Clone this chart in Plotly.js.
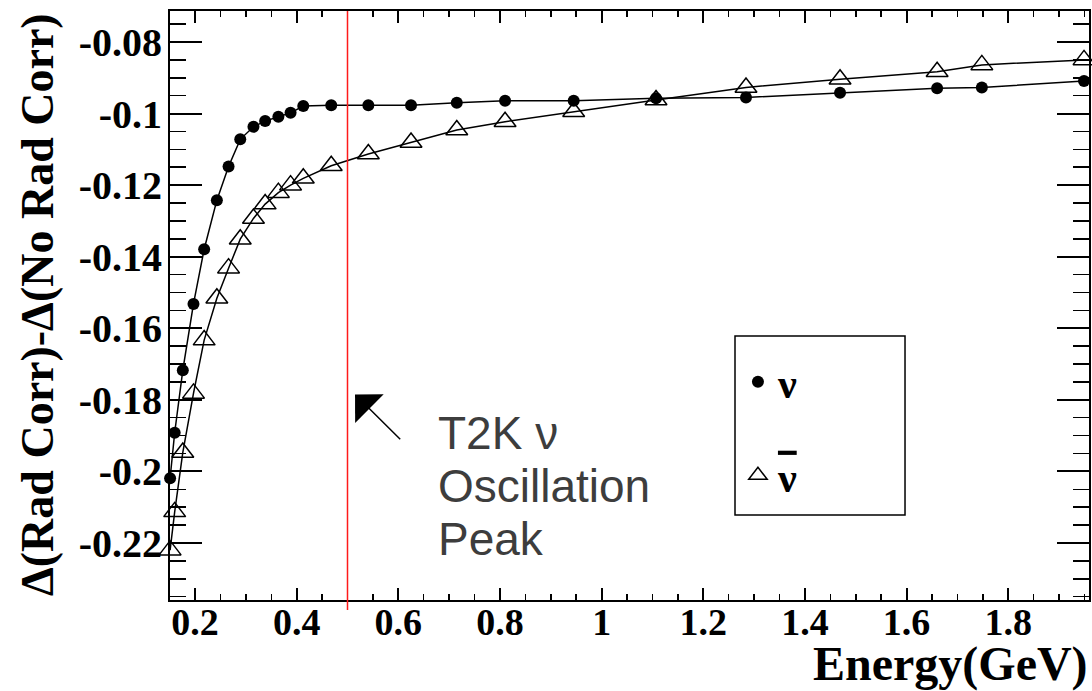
<!DOCTYPE html>
<html>
<head>
<meta charset="utf-8">
<script src="https://cdn.plot.ly/plotly-3.0.1.min.js"></script>
<style>html,body{margin:0;padding:0;background:#fff;}#chart{width:1092px;height:691px;}</style>
</head>
<body>
<div id="chart"></div>
<script>
// Neutrino energy (GeV), shared by both series
const energy = [0.151, 0.160, 0.176, 0.197, 0.218, 0.243, 0.266, 0.289, 0.315, 0.338, 0.364, 0.388, 0.413,
                0.468, 0.541, 0.625, 0.715, 0.810, 0.945, 1.107, 1.284, 1.469, 1.660, 1.748, 1.949];
// Δ(Rad Corr) - Δ(No Rad Corr), neutrino (filled circles)
const nuShift = [-0.2019, -0.1892, -0.1717, -0.1532, -0.1379, -0.1242, -0.1148, -0.1072, -0.1037, -0.1021, -0.1009, -0.0998, -0.0979,
                 -0.0977, -0.0977, -0.0977, -0.0970, -0.0964, -0.0964, -0.0957, -0.0955, -0.0942, -0.0929, -0.0927, -0.0909];
// antineutrino (open triangles)
const nubarShift = [-0.2220, -0.2113, -0.1947, -0.1782, -0.1633, -0.1516, -0.1432, -0.1351, -0.1293, -0.1253, -0.1221, -0.1200, -0.1181,
                    -0.1146, -0.1113, -0.1081, -0.1046, -0.1023, -0.0995, -0.0962, -0.0927, -0.0904, -0.0883, -0.0864, -0.0850];
const peakEnergy = 0.5;
const xTickVals = [0.2, 0.4, 0.6, 0.8, 1.0, 1.2, 1.4, 1.6, 1.8];
const xTickText = ['0.2', '0.4', '0.6', '0.8', '1', '1.2', '1.4', '1.6', '1.8'];
const yTickVals = [-0.08, -0.10, -0.12, -0.14, -0.16, -0.18, -0.20, -0.22];
const yTickText = ['-0.08', '-0.1', '-0.12', '-0.14', '-0.16', '-0.18', '-0.2', '-0.22'];
const seriesNames = ['ν', '<span style="text-decoration:overline">ν</span>'];
const xTitle = 'Energy(GeV)';
const yTitle = 'Δ(Rad Corr)-Δ(No Rad Corr)';
const noteLines = ['T2K ν', 'Oscillation', 'Peak'];

const serif = 'Liberation Serif, Times New Roman, serif';
const sans = 'Liberation Sans, Arial, sans-serif';

const traces = [
  {x: energy, y: nuShift, mode: 'lines+markers', showlegend: false, cliponaxis: false,
   line: {color: '#000', width: 1.5}, marker: {symbol: 'circle', size: 12, color: '#000'}},
  {x: energy, y: nubarShift, mode: 'lines+markers', showlegend: false, cliponaxis: false,
   line: {color: '#000', width: 1.5}, marker: {symbol: 'triangle-up-open', size: 19, color: '#000', line: {width: 1.5, color: '#000'}}},
  {x: [null], y: [null], mode: 'markers', name: seriesNames[0], legendgroup: 'a',
   marker: {symbol: 'circle', size: 12, color: '#000'}},
  {x: [null], y: [null], mode: 'markers', name: seriesNames[1], legendgroup: 'b',
   marker: {symbol: 'triangle-up-open', size: 16, color: '#000', line: {width: 1.5, color: '#000'}}}
];

const axisCommon = {showgrid: false, zeroline: false, showline: true, linecolor: '#000', linewidth: 2,
  mirror: 'ticks', ticks: 'inside', tickcolor: '#000', tickwidth: 2};

const layout = {
  width: 1092, height: 691,
  margin: {l: 170, r: 3, t: 11, b: 91},
  paper_bgcolor: '#fff', plot_bgcolor: '#fff',
  xaxis: Object.assign({}, axisCommon, {
    range: [0.1508, 1.9588], tickmode: 'array', tickvals: xTickVals, ticktext: xTickText,
    ticklen: 12, ticklabelstandoff: -13,
    tickfont: {family: serif, size: 38, color: '#000', weight: 'bold'},
    minor: {tickmode: 'linear', tick0: 0, dtick: 0.05, ticks: 'inside', ticklen: 6, tickwidth: 1.5, tickcolor: '#000'}
  }),
  yaxis: Object.assign({}, axisCommon, {
    range: [-0.23593, -0.07134], tickmode: 'array', tickvals: yTickVals, ticktext: yTickText,
    ticklen: 32, ticklabelstandoff: -2,
    tickfont: {family: serif, size: 40, color: '#000', weight: 'bold'},
    minor: {tickmode: 'linear', tick0: 0, dtick: 0.005, ticks: 'inside', ticklen: 16, tickwidth: 1.5, tickcolor: '#000'}
  }),
  showlegend: true,
  legend: {x: 0.618, xanchor: 'left', y: 0.428, yanchor: 'top', bgcolor: 'rgba(0,0,0,0)', borderwidth: 0,
    font: {family: serif, size: 42, color: '#000', weight: 'bold'}, tracegroupgap: 36, itemsizing: 'trace'},
  shapes: [
    {type: 'line', xref: 'x', yref: 'paper', x0: peakEnergy, x1: peakEnergy, y0: -0.017, y1: 1,
     line: {color: '#ff1a1a', width: 1.5}},
    {type: 'rect', xref: 'paper', yref: 'paper', x0: 0.6148, x1: 0.7998, y0: 0.1443, y1: 0.4482,
     line: {color: '#000', width: 1.5}, fillcolor: 'rgba(0,0,0,0)'}
  ],
  annotations: [
    {text: yTitle, xref: 'paper', yref: 'paper', x: -0.1447, y: 0.5008, xanchor: 'center', yanchor: 'middle',
     textangle: -90, showarrow: false, font: {family: serif, size: 46, color: '#000', weight: 'bold'}},
    {text: xTitle, xref: 'paper', yref: 'paper', x: 1.001, y: -0.109, xanchor: 'right', yanchor: 'middle',
     showarrow: false, font: {family: serif, size: 48, color: '#000', weight: 'bold'}},
    {text: noteLines[0], xref: 'paper', yref: 'paper', x: 0.2896, y: 0.2835, xanchor: 'left', yanchor: 'middle',
     showarrow: false, font: {family: sans, size: 46, color: '#3d3d3d'}},
    {text: noteLines[1], xref: 'paper', yref: 'paper', x: 0.2896, y: 0.1936, xanchor: 'left', yanchor: 'middle',
     showarrow: false, font: {family: sans, size: 46, color: '#3d3d3d'}},
    {text: noteLines[2], xref: 'paper', yref: 'paper', x: 0.2896, y: 0.1036, xanchor: 'left', yanchor: 'middle',
     showarrow: false, font: {family: sans, size: 46, color: '#3d3d3d'}},
    {text: '', xref: 'x', yref: 'y', x: 0.5148, y: -0.1785, ax: 46.7, ay: 46.3, showarrow: true,
     arrowhead: 1, arrowsize: 4.5, arrowwidth: 1.5, arrowcolor: '#000'}
  ]
};

Plotly.newPlot('chart', traces, layout, {displayModeBar: false, staticPlot: true});
</script>
</body>
</html>
